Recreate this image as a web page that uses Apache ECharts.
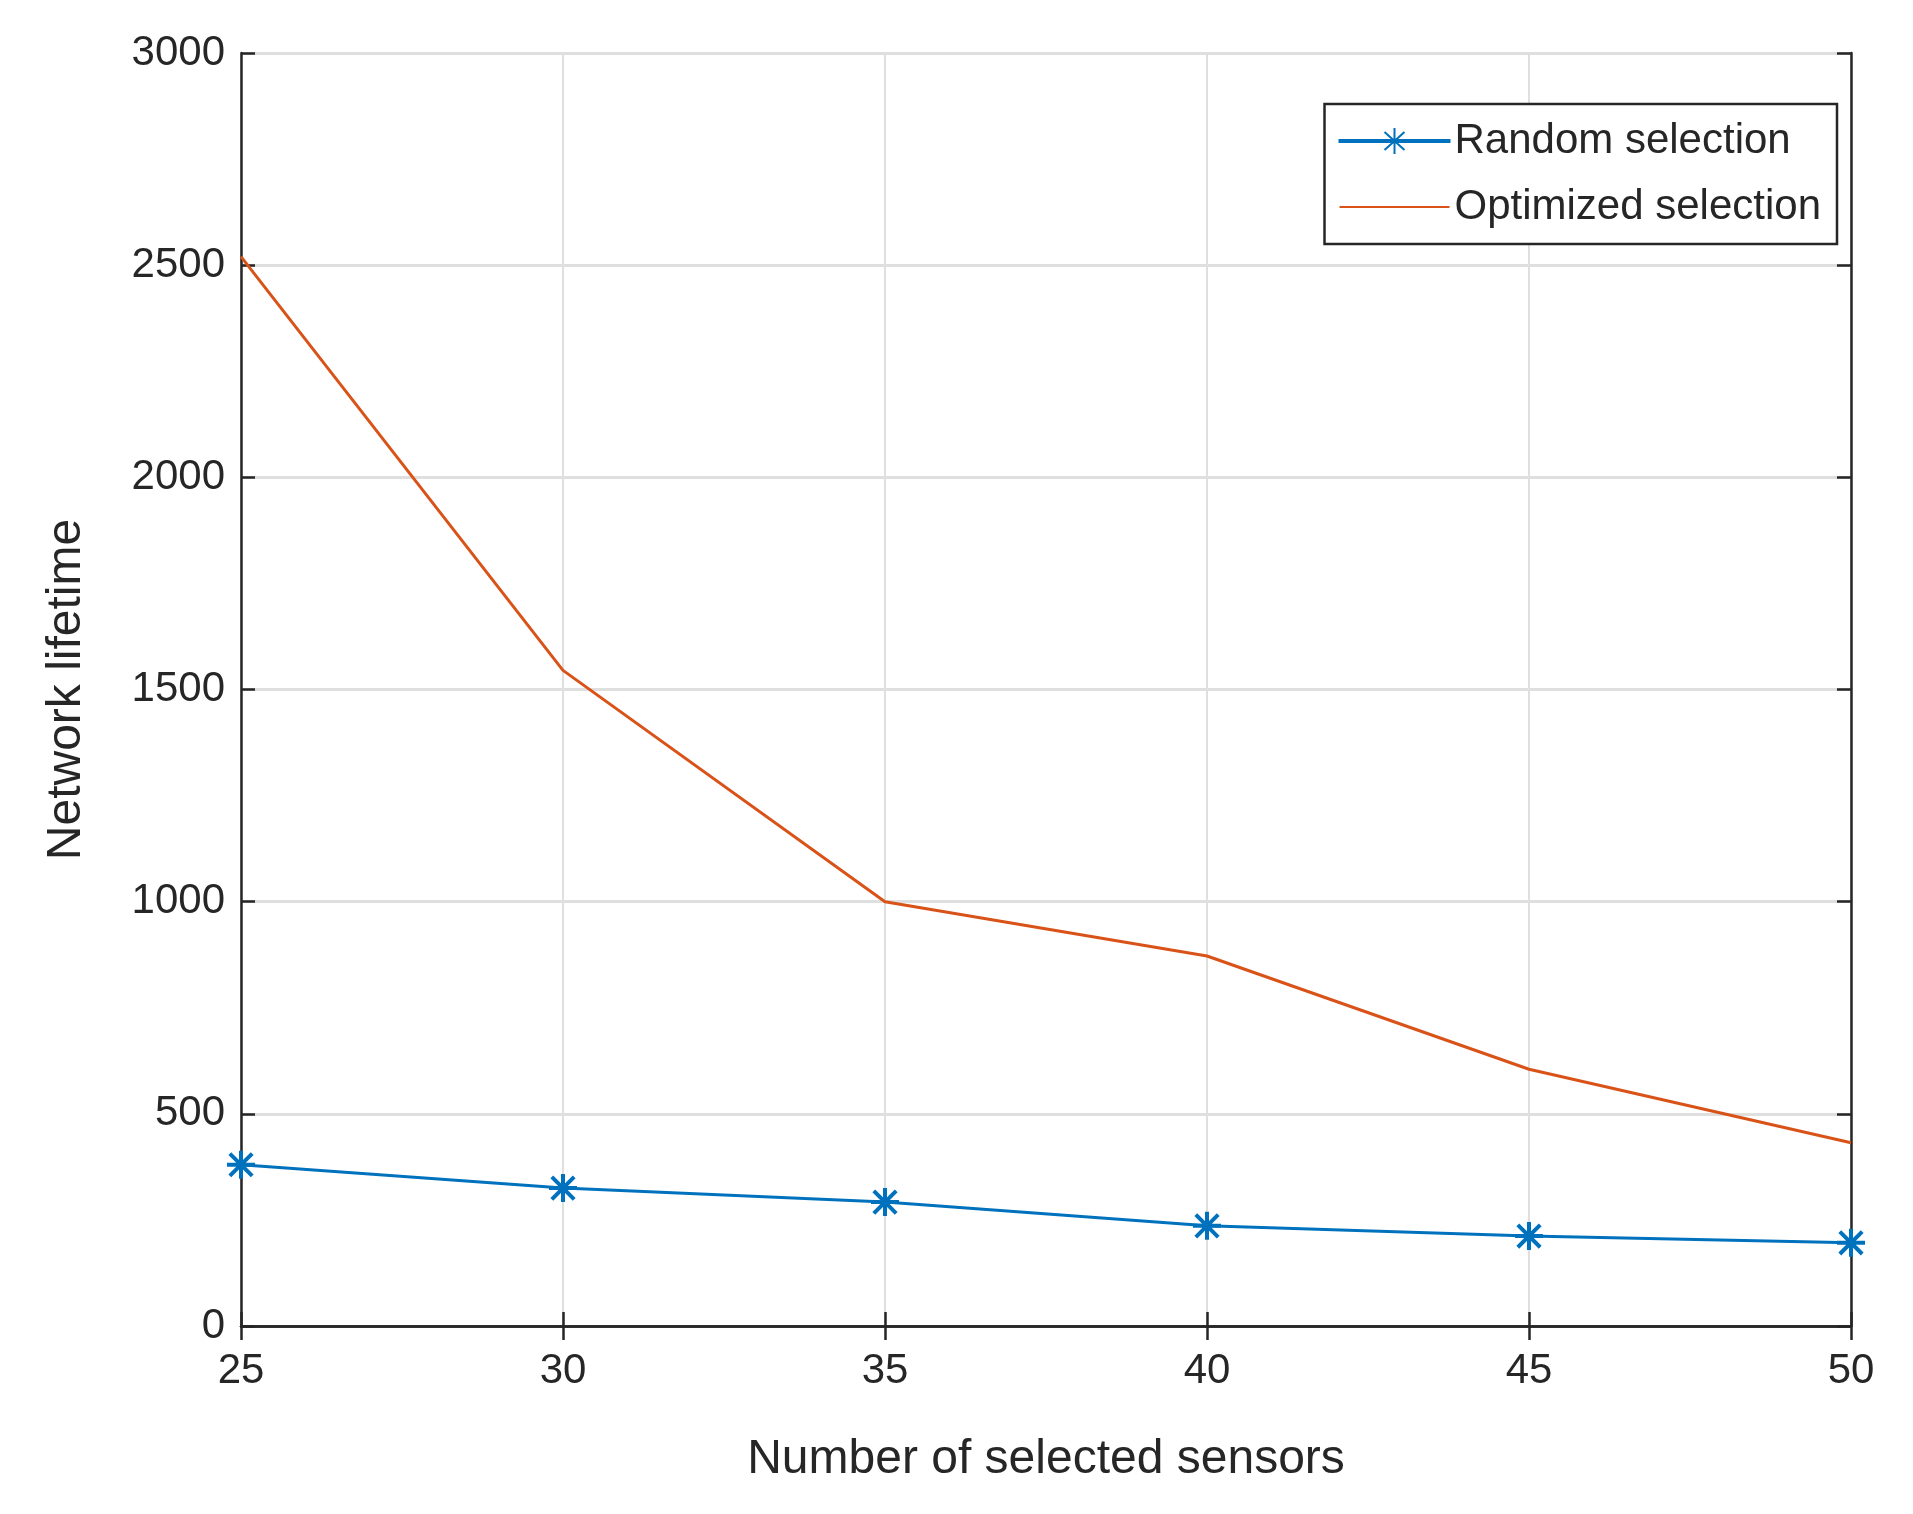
<!DOCTYPE html>
<html><head><meta charset="utf-8">
<script src="https://cdn.jsdelivr.net/npm/echarts@6/dist/echarts.min.js"></script>
<style>html,body{margin:0;padding:0;background:#fff}#c{width:1913px;height:1514px}</style>
</head><body><div id="c"></div>
<script>
const categories = [25, 30, 35, 40, 45, 50];
const randomSel = [380, 325, 292, 236, 212, 196];
const optimizedSel = [2520, 1545, 1000, 872, 605, 432];
const font = 'Liberation Sans, Arial, sans-serif';
const chart = echarts.init(document.getElementById('c'));
const tc = '#262626';
const plain = v => String(v);
const tick = {inside: true, length: 14, lineStyle: {color: tc, width: 2.5}};
chart.setOption({
  animation: false,
  grid: {left: 241, right: 62, top: 53, bottom: 188},
  xAxis: [{type: 'value', min: 25, max: 50, interval: 5,
    name: 'Number of selected sensors', nameLocation: 'middle', nameGap: 110,
    nameTextStyle: {fontFamily: font, fontSize: 48, color: tc},
    axisLabel: {fontFamily: font, fontSize: 42, color: tc, margin: 24, formatter: plain},
    axisLine: {lineStyle: {color: tc, width: 2.5}},
    axisTick: tick,
    splitLine: {lineStyle: {color: '#dfdfdf', width: 2}}},
    {type: 'value', position: 'top', min: 25, max: 50, interval: 5, axisLabel: {show: false},
     axisLine: {show: true, lineStyle: {color: tc, width: 2.5}}, axisTick: tick, splitLine: {show: false}}],
  yAxis: [{type: 'value', min: 0, max: 3000, interval: 500,
    name: 'Network lifetime', nameLocation: 'middle', nameGap: 150,
    nameTextStyle: {fontFamily: font, fontSize: 48, color: tc},
    axisLabel: {fontFamily: font, fontSize: 42, color: tc, margin: 16, formatter: plain},
    axisLine: {show: true, lineStyle: {color: tc, width: 2.5}},
    axisTick: tick,
    splitLine: {lineStyle: {color: '#dfdfdf', width: 3}}},
    {type: 'value', position: 'right', min: 0, max: 3000, interval: 500, axisLabel: {show: false},
     axisLine: {show: true, lineStyle: {color: tc, width: 2.5}}, axisTick: tick, splitLine: {show: false}}],
  legend: {right: 76, top: 104, orient: 'vertical', backgroundColor: '#fff',
    borderColor: tc, borderWidth: 2.5, padding: [16, 16, 16, 14], itemGap: 24,
    itemWidth: 110, itemHeight: 30,
    textStyle: {fontFamily: font, fontSize: 42, color: tc},
    data: [{name: 'Random selection', icon: 'path://M0,14L110,14L110,16L0,16Z M55,2 L55,28 M45,6 L65,24 M65,6 L45,24'},
           {name: 'Optimized selection', icon: 'path://M0,14L110,14L110,16L0,16Z'}]},
  series: [
    {name: 'Random selection', type: 'line', data: categories.map((c,i)=>[c, randomSel[i]]),
     color: '#0072BD', lineStyle: {width: 3}, symbol: 'path://M0,-1L0,1 M-1,0L1,0 M-0.8,-0.8L0.8,0.8 M0.8,-0.8L-0.8,0.8',
     symbolSize: 28, itemStyle: {color: '#0072BD', borderColor: '#0072BD', borderWidth: 4}},
    {name: 'Optimized selection', type: 'line', data: categories.map((c,i)=>[c, optimizedSel[i]]),
     color: '#D95319', lineStyle: {width: 3}, showSymbol: false, symbol: 'none'}
  ]
});
</script></body></html>
